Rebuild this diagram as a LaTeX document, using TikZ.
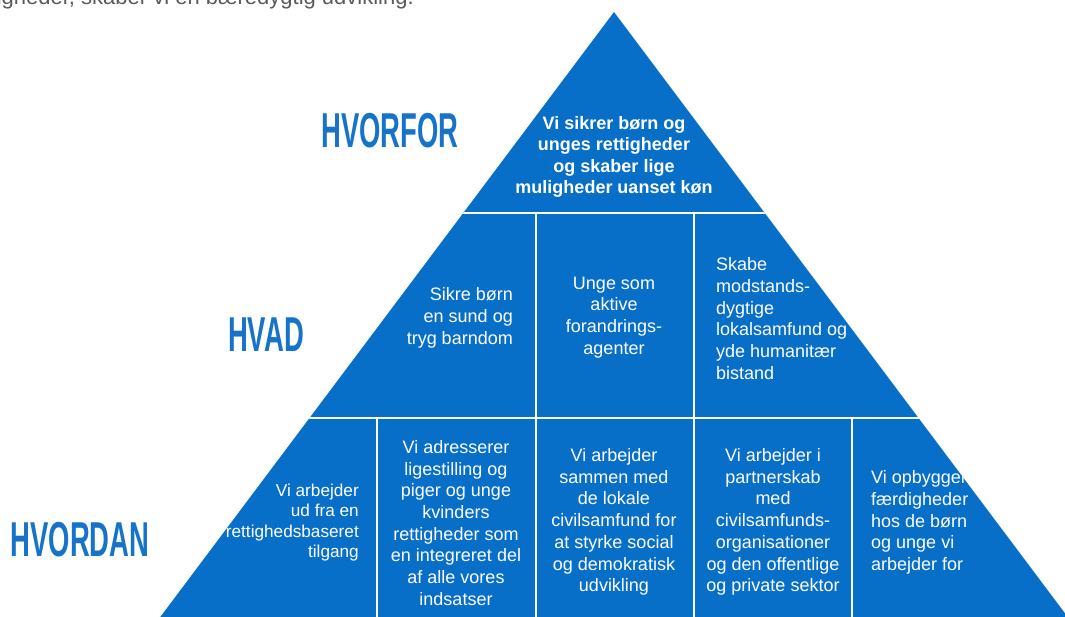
\documentclass[tikz,border=0pt]{standalone}
\usepackage{fontspec}
\setmainfont{Liberation Sans}
\newfontfamily\labelfont[FakeStretch=0.56]{Liberation Sans}
\definecolor{pyrblue}{RGB}{8,111,200}
\definecolor{labelblue}{RGB}{22,115,200}
\definecolor{introgray}{RGB}{90,90,90}
\begin{document}
\begin{tikzpicture}[x=1pt,y=-1pt,
  celltext/.style={text=white,inner sep=0pt,font=\fontsize{18}{21.7}\selectfont},
  toptext/.style={text=white,inner sep=0pt,font=\fontsize{18}{21.5}\selectfont\bfseries,align=center},
  levellabel/.style={text=labelblue,inner sep=0pt,font=\labelfont\bfseries\fontsize{49}{49}\selectfont},
  divider/.style={white,line width=2.2pt},
  introtext/.style={text=introgray,inner sep=0pt,font=\fontsize{22}{26}\selectfont}]
\useasboundingbox (0,0) rectangle (1065,617);
\clip (0,0) rectangle (1065,617);

% intro line (cut off at top)
\node[introtext,anchor=base east] (intro) at (414,5) {ligheder, skaber vi en bæredygtig udvikling.};

% pyramid
\coordinate (apex) at (614,12);
\coordinate (bl) at (143,640);
\coordinate (br) at (1085,640);
\fill[pyrblue] (apex) -- (br) -- (bl) -- cycle;
\begin{scope}
  \clip (apex) -- (br) -- (bl) -- cycle;
  \coordinate (h1l) at (400,213); \coordinate (h1r) at (830,213);
  \coordinate (h2l) at (250,418); \coordinate (h2r) at (1000,418);
  \draw[divider] (h1l) -- (h1r);
  \draw[divider] (h2l) -- (h2r);
  \foreach \xx in {536,694} {\draw[divider] (\xx,213) -- (\xx,418);}
  \foreach \xx in {377,536,694,852} {\draw[divider] (\xx,418) -- (\xx,640);}
\end{scope}

% level labels
\node[levellabel] (hvorfor) at (390,131) {HVORFOR};
\node[levellabel] (hvad) at (266,335) {HVAD};
\node[levellabel] (hvordan) at (80,540) {HVORDAN};

% top
\node[toptext] (top) at (614,157) {Vi sikrer børn og\\unges rettigheder\\og skaber lige\\muligheder uanset køn};

% middle row
\node[celltext,align=right,anchor=east] (m1) at (513,318) {Sikre børn\\en sund og\\tryg barndom};
\node[celltext,align=center] (m2) at (614,317.5) {Unge som\\aktive\\forandrings-\\agenter};
\node[celltext,align=left,anchor=west] (m3) at (716,318.5) {Skabe\\modstands-\\dygtige\\lokalsamfund og\\yde humanitær\\bistand};

% bottom row
\node[celltext,align=right,anchor=east,font=\fontsize{17.2}{20.4}\selectfont] (b1) at (359,522.5) {Vi arbejder\\ud fra en\\rettighedsbaseret\\tilgang};
\node[celltext,align=center] (b2) at (456,523) {Vi adresserer\\ligestilling og\\piger og unge\\kvinders\\rettigheder som\\en integreret del\\af alle vores\\indsatser};
\node[celltext,align=center] (b3) at (614,522) {Vi arbejder\\sammen med\\de lokale\\civilsamfund for\\at styrke social\\og demokratisk\\udvikling};
\node[celltext,align=center] (b4) at (773,522) {Vi arbejder i\\partnerskab\\med\\civilsamfunds-\\organisationer\\og den offentlige\\og private sektor};
\node[celltext,align=left,anchor=west] (b5) at (871,522.5) {Vi opbygger\\færdigheder\\hos de børn\\og unge vi\\arbejder for};
\end{tikzpicture}
\end{document}
